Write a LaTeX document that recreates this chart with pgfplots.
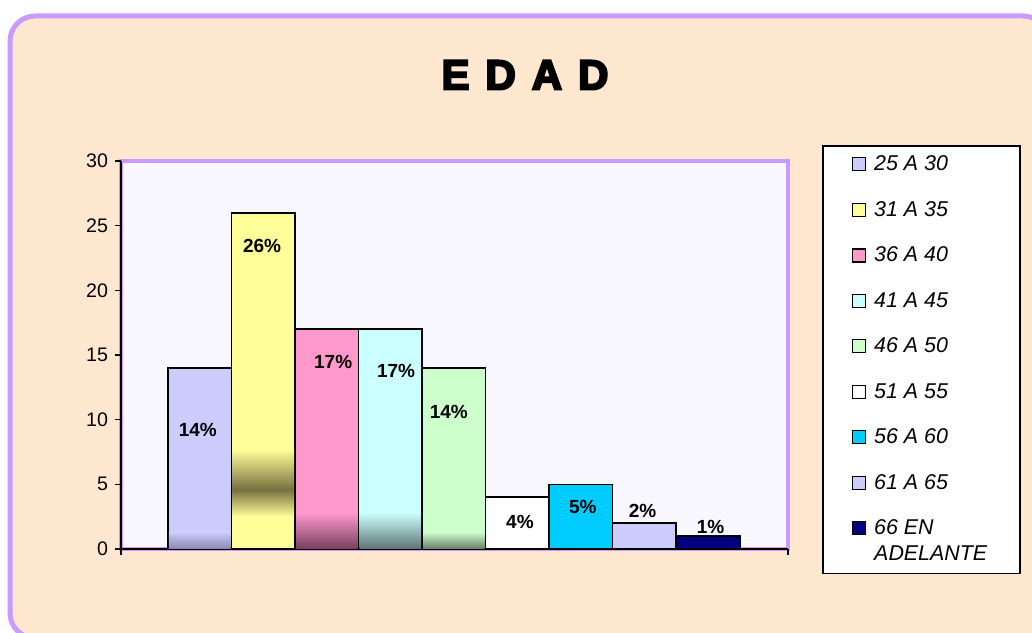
\documentclass[border=0pt]{standalone}
\usepackage{fontspec}
\setmainfont{Liberation Sans}
\newfontfamily\blackfont{Liberation Sans}[BoldFeatures={FakeBold=5}]
\usepackage{pgfplots}
\pgfplotsset{compat=1.18}
\pgfplotsset{shiftedlegend/.style={legend image code/.code={\draw[##1, draw=black, line width=0.6pt] (0pt,3.4pt) rectangle (6.5pt,9.9pt); \path (8.5pt,0pt);}}}
\definecolor{peach}{HTML}{FFE7D0}
\definecolor{framepurple}{HTML}{CC99FF}
\definecolor{plotbg}{HTML}{F9F7FF}
\definecolor{cA}{HTML}{CCCCFF}
\definecolor{cB}{HTML}{FFFF99}
\definecolor{cC}{HTML}{FF99CC}
\definecolor{cD}{HTML}{CCFFFF}
\definecolor{cE}{HTML}{CCFFCC}
\definecolor{cF}{HTML}{FFFFFF}
\definecolor{cG}{HTML}{00CCFF}
\definecolor{cH}{HTML}{CCCCFF}
\definecolor{cI}{HTML}{000080}
\definecolor{gA}{HTML}{8A8AB0}
\definecolor{gB}{HTML}{77703F}
\definecolor{gC}{HTML}{7A4060}
\definecolor{gD}{HTML}{5F7575}
\definecolor{gE}{HTML}{6A806A}
\begin{document}
\begin{tikzpicture}
\useasboundingbox (0,0) rectangle (516pt,316pt);
\begin{scope}
\clip (0,0) rectangle (516pt,316pt);
\draw[framepurple, line width=2.5pt, fill=peach, rounded corners=12.5pt] (5pt,308pt) rectangle (524pt,-3pt);
\end{scope}
\node[font=\fontsize{21}{24}\selectfont\blackfont\bfseries] at (262.5pt,278.5pt) {E\hspace{8pt}D\hspace{8pt}A\hspace{8pt}D};
\begin{axis}[
  at={(60.5pt,41.5pt)}, anchor=south west,
  scale only axis, width=333.5pt, height=194pt,
  xmin=-0.24, xmax=10.26, ymin=0, ymax=30,
  ytick={0,5,...,30}, xtick={-0.24,10.26}, xticklabels={},
  axis x line*=bottom, axis y line*=left,
  axis line style={black, line width=0.8pt, -},
  tick style={black, line width=0.8pt},
  tick align=outside, major tick length=3pt,
  yticklabel style={font=\fontsize{9.8}{11}\selectfont},
  /pgf/number format/assume math mode=true,
  axis background/.style={fill=plotbg, draw=framepurple, line width=1.6pt},
  legend style={at={(1.051,1.041)}, anchor=north west, draw=black, line width=0.8pt, fill=white,
    font=\fontsize{10.7}{12.8}\selectfont\itshape, row sep=9.8pt, inner xsep=14.5pt, inner ysep=3pt,
    nodes={align=left}},
  legend cell align=left,
  legend image code/.code={\draw[#1, draw=black, line width=0.6pt] (0pt,-3pt) rectangle (6.5pt,3.5pt); \path (8.5pt,0pt);},
]
\addplot[ybar, bar width=1, bar shift=0, fill=cA, draw=black, line width=0.8pt] coordinates {(1,14)};
\addlegendentry{25 A 30}
\addplot[ybar, bar width=1, bar shift=0, fill=cB, draw=black, line width=0.8pt] coordinates {(2,26)};
\addlegendentry{31 A 35}
\addplot[ybar, bar width=1, bar shift=0, fill=cC, draw=black, line width=0.8pt] coordinates {(3,17)};
\addlegendentry{36 A 40}
\addplot[ybar, bar width=1, bar shift=0, fill=cD, draw=black, line width=0.8pt] coordinates {(4,17)};
\addlegendentry{41 A 45}
\addplot[ybar, bar width=1, bar shift=0, fill=cE, draw=black, line width=0.8pt] coordinates {(5,14)};
\addlegendentry{46 A 50}
\addplot[ybar, bar width=1, bar shift=0, fill=cF, draw=black, line width=0.8pt] coordinates {(6,4)};
\addlegendentry{51 A 55}
\addplot[ybar, bar width=1, bar shift=0, fill=cG, draw=black, line width=0.8pt] coordinates {(7,5)};
\addlegendentry{56 A 60}
\addplot[ybar, bar width=1, bar shift=0, fill=cH, draw=black, line width=0.8pt] coordinates {(8,2)};
\addlegendentry{61 A 65}
\addplot[ybar, bar width=1, bar shift=0, fill=cI, draw=black, line width=0.8pt, shiftedlegend] coordinates {(9,1)};
\addlegendentry{66 EN\\ADELANTE}
% shading overlays
\addplot[forget plot, draw=none, top color=cA, bottom color=gA] coordinates {(0.515,0.05) (1.485,0.05) (1.485,1.3) (0.515,1.3)} -- cycle;
\addplot[forget plot, draw=none, top color=gB, bottom color=cB] coordinates {(1.515,2.5) (2.485,2.5) (2.485,4.6) (1.515,4.6)} -- cycle;
\addplot[forget plot, draw=none, top color=cB, bottom color=gB] coordinates {(1.515,4.6) (2.485,4.6) (2.485,7.7) (1.515,7.7)} -- cycle;
\addplot[forget plot, draw=none, top color=cC, bottom color=gC] coordinates {(2.515,0.05) (3.485,0.05) (3.485,2.8) (2.515,2.8)} -- cycle;
\addplot[forget plot, draw=none, top color=cD, bottom color=gD] coordinates {(3.515,0.05) (4.485,0.05) (4.485,2.8) (3.515,2.8)} -- cycle;
\addplot[forget plot, draw=none, top color=cE, bottom color=gE] coordinates {(4.515,0.05) (5.485,0.05) (5.485,1.3) (4.515,1.3)} -- cycle;
% value labels
\begin{scope}[every node/.style={font=\fontsize{9.5}{11}\selectfont\bfseries}]
\node at (axis cs:0.97,9.2) {14\%};
\node at (axis cs:1.98,23.4) {26\%};
\node at (axis cs:3.10,14.5) {17\%};
\node at (axis cs:4.09,13.8) {17\%};
\node at (axis cs:4.92,10.6) {14\%};
\node at (axis cs:6.04,2.1) {4\%};
\node at (axis cs:7.03,3.25) {5\%};
\node at (axis cs:7.97,2.94) {2\%};
\node at (axis cs:9.04,1.7) {1\%};
\end{scope}
\end{axis}
\end{tikzpicture}
\end{document}
